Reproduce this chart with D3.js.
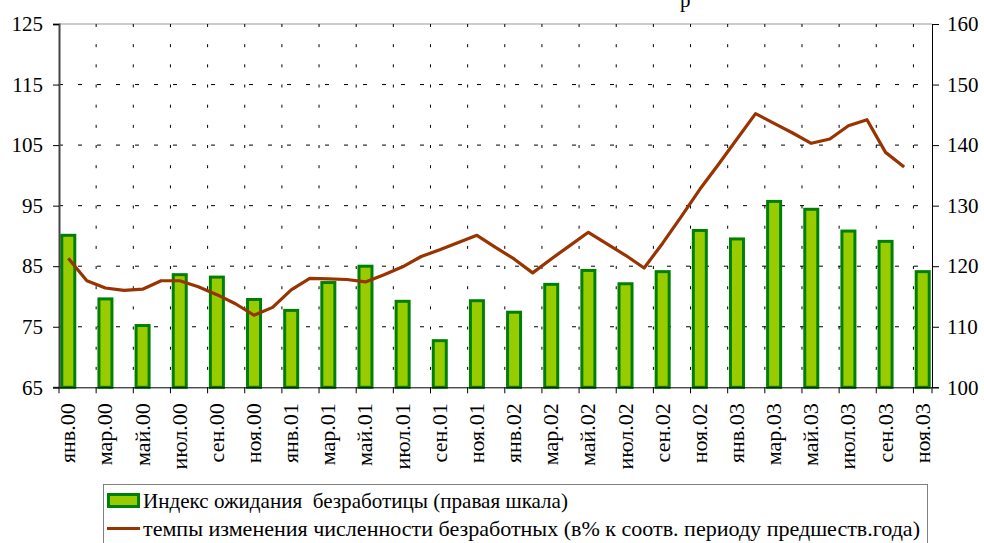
<!DOCTYPE html>
<html>
<head>
<meta charset="utf-8">
<script src="https://cdnjs.cloudflare.com/ajax/libs/d3/7.8.5/d3.min.js"></script>
<style>
  body { margin: 0; background: #fff; }
  svg text { font-family: "Liberation Serif", "DejaVu Serif", "Times New Roman", Times, serif; fill: #000; white-space: pre; }
</style>
</head>
<body>
<svg id="grafico" width="984" height="543"></svg>
<script>
// подписи оси X (каждые 2 месяца)
var tickLabels = ['янв.00','мар.00','май.00','июл.00','сен.00','ноя.00',
                  'янв.01','мар.01','май.01','июл.01','сен.01','ноя.01',
                  'янв.02','мар.02','май.02','июл.02','сен.02','ноя.02',
                  'янв.03','мар.03','май.03','июл.03','сен.03','ноя.03'];

// индекс ожидания безработицы (правая шкала), по tickLabels
var indexValues = [125.1, 114.6, 110.2, 118.6, 118.2, 114.5,
                   112.7, 117.3, 120.0, 114.2, 107.7, 114.3,
                   112.4, 117.0, 119.3, 117.1, 119.1, 125.9,
                   124.5, 130.7, 129.4, 125.8, 124.1, 119.1];

// темпы изменения численности безработных, помесячно янв.00 - окт.03 (левая шкала)
var rateValues = [86.3, 82.6, 81.4, 81.0, 81.2, 82.6, 82.6, 81.6, 80.3, 78.8, 76.9, 78.2,
                  81.1, 83.0, 82.9, 82.8, 82.4, 83.6, 84.9, 86.6, 87.7, 88.9, 90.1, 88.1,
                  86.2, 83.9, 86.2, 88.4, 90.6, 88.7, 86.8, 84.7, 88.8, 93.2, 97.7, 101.8,
                  106.0, 110.2, 108.6, 107.0, 105.3, 106.0, 108.2, 109.2, 103.8, 101.4];

var leftTicks = [65, 75, 85, 95, 105, 115, 125];
var rightTicks = [100, 110, 120, 130, 140, 150, 160];

var legendLabels = ['Индекс ожидания  безработицы (правая шкала)',
                    'темпы изменения численности безработных (в% к соотв. периоду предшеств.года)'];

// все месяцы янв.00 - ноя.03
var monthNames = ['янв','фев','мар','апр','май','июн','июл','авг','сен','окт','ноя','дек'];
var months = [];
for (var yr = 0; yr < 4; yr++) {
    for (var mo = 0; mo < 12; mo++) {
        months.push(monthNames[mo] + '.0' + yr);
    }
}
months = months.slice(0, 47);

var shrift = '"Liberation Serif", "DejaVu Serif", "Times New Roman", Times, serif';

function grafico() {
    var svg = d3.select("svg#grafico");
    var pL = 59, pR = 932, pT = 24, pB = 387.3;

    var x = d3.scaleBand().domain(months).range([pL, pR]);
    var yL = d3.scaleLinear().domain([65, 125]).range([pB, pT]);
    var yR = d3.scaleLinear().domain([100, 160]).range([pB, pT]);

    // обрывок заголовка сверху
    svg.append("text").attr("x", 680).attr("y", 7).attr("font-size", 21)
        .style("font-family", shrift).text("р");

    // сетка
    svg.append("line")
        .attr("x1", pL).attr("x2", pR).attr("y1", pT).attr("y2", pT)
        .attr("stroke", "#999").attr("stroke-width", 1);

    svg.append("g").selectAll("line")
        .data(leftTicks.slice(1, -1))
        .enter().append("line")
        .attr("x1", pL).attr("x2", pR)
        .attr("y1", function (d) { return yL(d); })
        .attr("y2", function (d) { return yL(d); })
        .attr("stroke", "#000").attr("stroke-width", 1)
        .attr("stroke-dasharray", "4,15");

    svg.append("g").selectAll("line")
        .data(tickLabels.slice(1))
        .enter().append("line")
        .attr("x1", function (d) { return x(d); })
        .attr("x2", function (d) { return x(d); })
        .attr("y1", pT).attr("y2", pB)
        .attr("stroke", "#000").attr("stroke-width", 1)
        .attr("stroke-dasharray", "3,17.17");

    // столбики
    var bw = x.bandwidth() * 0.7;
    svg.append("g").selectAll("rect")
        .data(indexValues)
        .enter().append("rect")
        .attr("x", function (d, i) { return x(tickLabels[i]) + (x.bandwidth() - bw) / 2; })
        .attr("y", function (d) { return yR(d); })
        .attr("width", bw)
        .attr("height", function (d) { return pB - yR(d); })
        .attr("fill", "#99cc00")
        .attr("stroke", "#008000")
        .attr("stroke-width", 3);

    // линия
    var line = d3.line()
        .x(function (d, i) { return x(months[i]) + x.bandwidth() / 2; })
        .y(function (d) { return yL(d); });

    svg.append("path")
        .datum(rateValues)
        .attr("d", line)
        .attr("fill", "none")
        .attr("stroke", "#993300")
        .attr("stroke-width", 3.2)
        .attr("stroke-linejoin", "round");

    // оси
    var axL = svg.append("g")
        .attr("transform", "translate(" + pL + ",0)")
        .call(d3.axisLeft(yL).tickValues(leftTicks).tickSize(6).tickPadding(10));
    axL.attr("font-family", null);
    axL.select(".domain").attr("stroke", "#444").attr("stroke-width", 2);
    axL.selectAll("line").attr("stroke", "#000");
    axL.selectAll("text").attr("font-size", 21).style("font-family", shrift);

    var axR = svg.append("g")
        .attr("transform", "translate(" + pR + ",0)")
        .call(d3.axisRight(yR).tickValues(rightTicks).tickSize(7).tickPadding(8));
    axR.attr("font-family", null);
    axR.selectAll("text").attr("font-size", 21).style("font-family", shrift);

    var axB = svg.append("g")
        .attr("transform", "translate(0," + pB + ")")
        .call(d3.axisBottom(x).tickValues([]).tickSizeOuter(0));
    axB.attr("font-family", null);

    axB.selectAll("line.tk")
        .data(tickLabels.concat(["end"]))
        .enter().append("line")
        .attr("class", "tk")
        .attr("x1", function (d, i) { return i < tickLabels.length ? x(d) : pR; })
        .attr("x2", function (d, i) { return i < tickLabels.length ? x(d) : pR; })
        .attr("y1", 0).attr("y2", 6)
        .attr("stroke", "#000");

    axB.selectAll("text.lbl")
        .data(tickLabels)
        .enter().append("text")
        .attr("class", "lbl")
        .attr("transform", function (d) {
            return "translate(" + (x(d) + x.bandwidth() / 2 + 7) + ",16)rotate(-90)";
        })
        .attr("text-anchor", "end")
        .attr("font-size", 22)
        .style("font-family", shrift)
        .text(function (d) { return d; });

    // легенда
    var lg = svg.append("g");
    lg.append("rect")
        .attr("x", 103.5).attr("y", 484.5).attr("width", 824).attr("height", 70)
        .attr("fill", "#fff").attr("stroke", "#808080").attr("stroke-width", 1);
    lg.append("rect")
        .attr("x", 108.5).attr("y", 494.5).attr("width", 30).attr("height", 12)
        .attr("fill", "#99cc00").attr("stroke", "#008000").attr("stroke-width", 3);
    lg.append("line")
        .attr("x1", 107).attr("x2", 140).attr("y1", 528.5).attr("y2", 528.5)
        .attr("stroke", "#993300").attr("stroke-width", 3);
    var legendWidths = [425, 777];
    lg.selectAll("text")
        .data(legendLabels)
        .enter().append("text")
        .attr("x", 143)
        .attr("y", function (d, i) { return 508 + i * 28; })
        .attr("font-size", 21)
        .style("font-family", shrift)
        .attr("textLength", function (d, i) { return legendWidths[i]; })
        .attr("lengthAdjust", "spacingAndGlyphs")
        .text(function (d) { return d; });
}

grafico();
</script>
</body>
</html>
